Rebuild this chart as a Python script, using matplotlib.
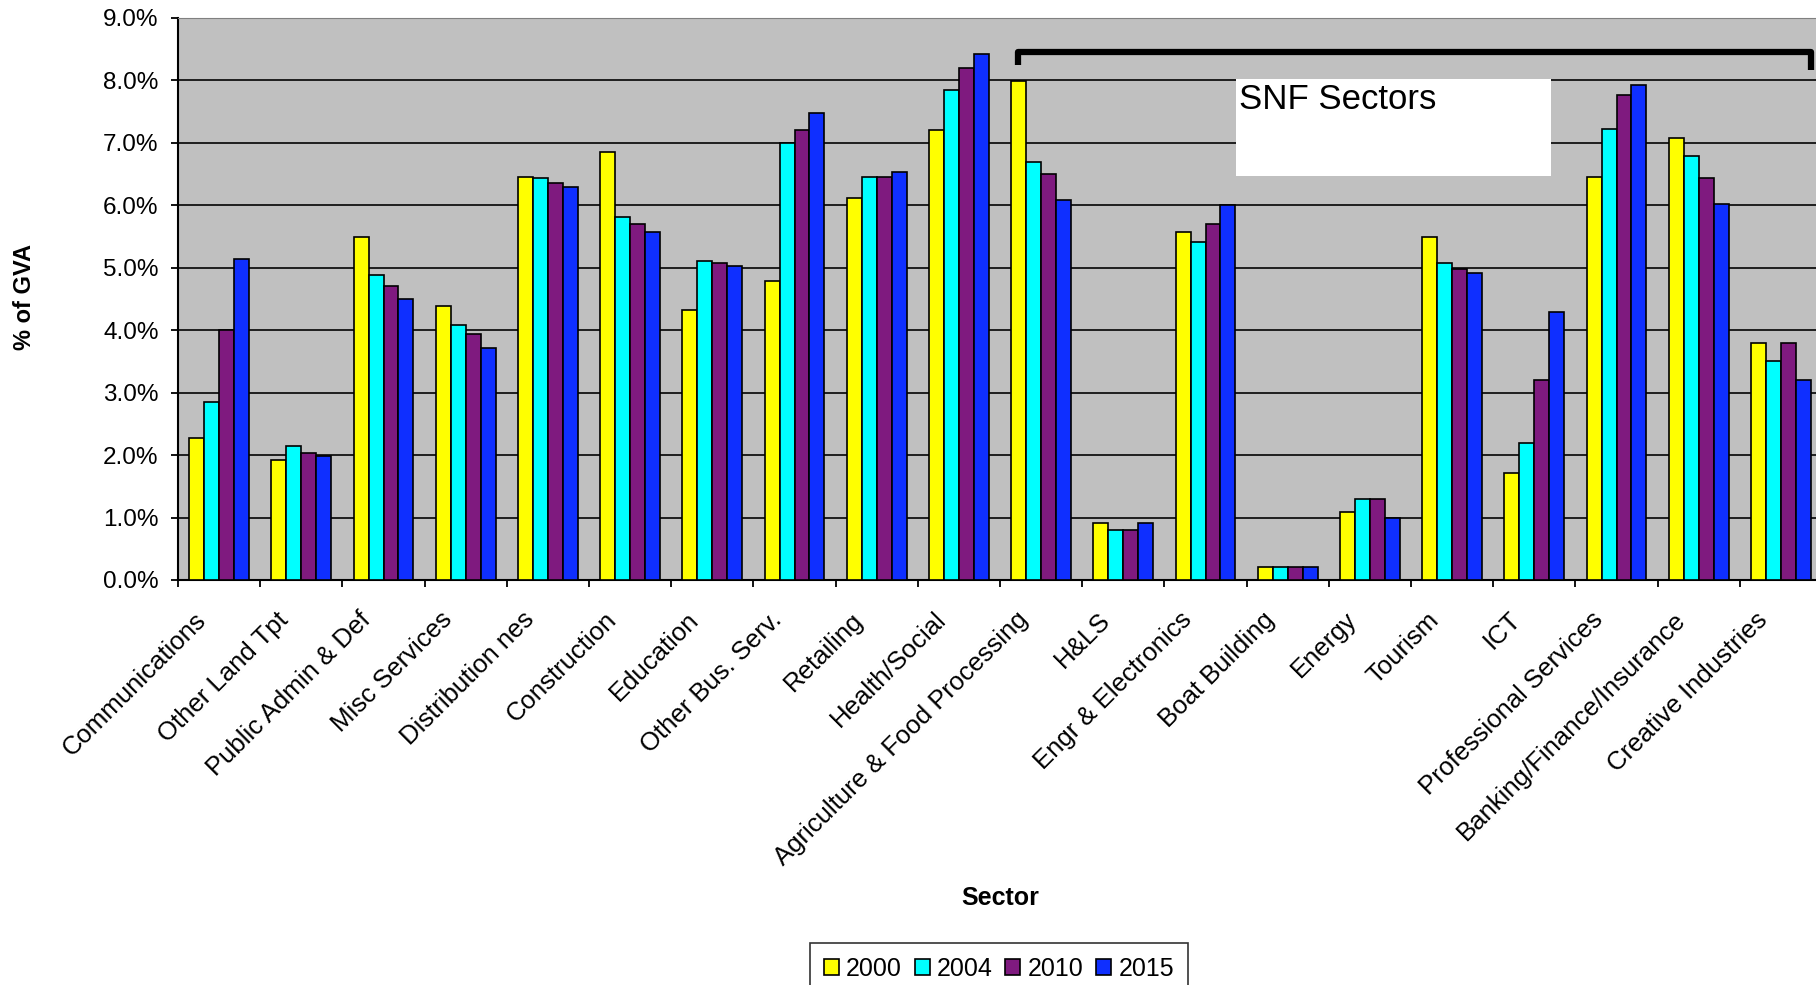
import numpy as np
import matplotlib
matplotlib.use("Agg")
import matplotlib.pyplot as plt
from matplotlib.transforms import ScaledTranslation

sectors = ["Communications", "Other Land Tpt", "Public Admin & Def", "Misc Services",
           "Distribution nes", "Construction", "Education", "Other Bus. Serv.",
           "Retailing", "Health/Social", "Agriculture & Food Processing", "H&LS",
           "Engr & Electronics", "Boat Building", "Energy", "Tourism", "ICT",
           "Professional Services", "Banking/Finance/Insurance", "Creative Industries"]

years = ["2000", "2004", "2010", "2015"]

# % of GVA
gva_2000 = [2.27, 1.92, 5.49, 4.38, 6.46, 6.85, 4.32, 4.79, 6.11, 7.20,
            7.99, 0.92, 5.58, 0.21, 1.09, 5.49, 1.71, 6.46, 7.07, 3.79]
gva_2004 = [2.85, 2.15, 4.88, 4.08, 6.44, 5.82, 5.11, 6.99, 6.46, 7.84,
            6.70, 0.80, 5.41, 0.21, 1.30, 5.08, 2.20, 7.22, 6.79, 3.50]
gva_2010 = [4.00, 2.03, 4.71, 3.94, 6.35, 5.70, 5.08, 7.20, 6.46, 8.20,
            6.50, 0.80, 5.70, 0.21, 1.30, 4.98, 3.21, 7.76, 6.44, 3.79]
gva_2015 = [5.14, 1.98, 4.50, 3.71, 6.29, 5.58, 5.02, 7.47, 6.53, 8.43,
            6.09, 0.92, 6.00, 0.21, 1.00, 4.91, 4.29, 7.93, 6.02, 3.21]

colors = ["#FFFF00", "#00FFFF", "#7F1A7F", "#0F2FFF"]

plt.rcParams['font.family'] = ['Liberation Sans', 'DejaVu Sans']

fig = plt.figure(figsize=(18.16, 9.85), dpi=100)
ax = fig.add_axes([178 / 1816, 0.4112, 1644 / 1816, 0.5706])
ax.set_facecolor("#C0C0C0")

x = np.arange(len(sectors))
w = 0.182
series = [gva_2000, gva_2004, gva_2010, gva_2015]
for i, vals in enumerate(series):
    ax.bar(x + (i - 1.5) * w, vals, width=w, color=colors[i], edgecolor="black",
           linewidth=1.2, label=years[i], zorder=3)

ax.set_xlim(-0.5, len(sectors) - 0.5)
ax.set_ylim(0, 9)
ax.set_yticks(np.arange(0, 9.1, 1))
ax.set_yticklabels([f"{v:.1f}%" for v in np.arange(0, 9.1, 1)], fontsize=17.5)
ax.yaxis.grid(True, color="#111111", linewidth=1.3, zorder=1)
ax.set_axisbelow(True)

ax.set_xticks(x)
ax.set_xticks(np.arange(-0.5, len(sectors), 1), minor=True)
ax.tick_params(axis="x", which="major", length=0, pad=26)
ax.tick_params(axis="x", which="minor", length=5, width=1.3, color="black")
ax.tick_params(axis="y", length=5, width=1.3, pad=9)
ax.set_xticklabels(sectors, fontsize=18.5, rotation=45, ha="right", va="center",
                   rotation_mode="anchor")
offset = ScaledTranslation(-0.17, 0, fig.dpi_scale_trans)
for lab in ax.get_xticklabels():
    lab.set_transform(lab.get_transform() + offset)

for side in ["left", "bottom"]:
    ax.spines[side].set_color("black")
    ax.spines[side].set_linewidth(1.5)
ax.spines["top"].set_color("#808080")
ax.spines["right"].set_visible(False)

# SNF bracket and label box
ax.plot([9.72, 9.72, 19.37, 19.37], [8.24, 8.455, 8.455, 8.17], color="black",
        linewidth=4.5, solid_capstyle="butt", solid_joinstyle="round", zorder=5)
ax.add_patch(plt.Rectangle((12.37, 6.47), 3.83, 1.56, facecolor="white",
                           edgecolor="none", zorder=4))
ax.text(12.41, 7.95, "SNF Sectors", fontsize=25, va="top", ha="left", zorder=6)

fig.text(25 / 1816, 1 - 297 / 985, "% of GVA", rotation=90, fontsize=17,
         fontweight="bold", ha="center", va="center")
fig.text(1000 / 1816, 1 - 898 / 985, "Sector", fontsize=18, fontweight="bold",
         ha="center", va="center")

leg = fig.legend(loc="upper center", bbox_to_anchor=(999 / 1816, 1 - 943 / 985),
                 ncol=4, fontsize=18, frameon=True, fancybox=False,
                 edgecolor="black", handlelength=0.6, handleheight=0.6,
                 handletextpad=0.3, columnspacing=0.5, borderpad=0.55,
                 borderaxespad=0)
leg.get_frame().set_linewidth(1.2)

plt.savefig("out.png", dpi=100)
